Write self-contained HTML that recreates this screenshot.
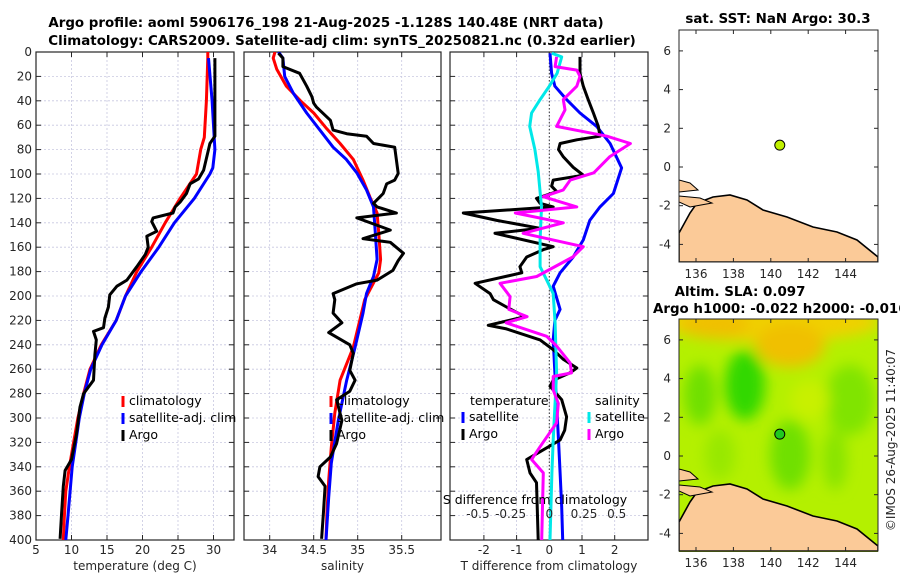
<!DOCTYPE html>
<html><head><meta charset="utf-8">
<style>
html,body{margin:0;padding:0;background:#fff;}
svg{display:block;font-family:"DejaVu Sans","Liberation Sans",sans-serif;}
.tk{font-size:12px;fill:#262626;}
.ttl{font-size:13.4px;font-weight:bold;fill:#000;}
.lg{font-size:12.5px;fill:#000;}
</style></head>
<body>
<svg id="chart" width="900" height="580" viewBox="0 0 900 580">
<defs>
<filter id="blr" x="-50%" y="-50%" width="200%" height="200%"><feGaussianBlur stdDeviation="7"/></filter>
<clipPath id="clipA"><rect x="679" y="319" width="199" height="233"/></clipPath>
<clipPath id="clipS"><rect x="679" y="30" width="199" height="232"/></clipPath>
<clipPath id="clipP1"><rect x="36" y="52" width="198" height="488"/></clipPath>
<clipPath id="clipP2"><rect x="244" y="52" width="197" height="488"/></clipPath>
<clipPath id="clipP3"><rect x="450" y="52" width="198" height="488"/></clipPath>
</defs>
<text class="ttl" x="326" y="27" text-anchor="middle">Argo profile: aoml 5906176_198 21-Aug-2025 -1.128S 140.48E (NRT data)</text>
<text class="ttl" x="342" y="45" text-anchor="middle">Climatology: CARS2009. Satellite-adj clim: synTS_20250821.nc (0.32d earlier)</text>
<g id="g1"></g>
<g id="g2"></g>
<g id="g3"></g>
<g id="gm"></g>
<text class="ttl" x="778" y="23" text-anchor="middle">sat. SST: NaN Argo: 30.3</text>
<text class="ttl" x="740" y="296" text-anchor="middle">Altim. SLA: 0.097</text>
<text class="ttl" x="653" y="313">Argo h1000: -0.022 h2000: -0.016</text>
<text class="tk" x="0" y="0" transform="translate(895,440) rotate(-90)" text-anchor="middle" font-size="12.5">©IMOS 26-Aug-2025 11:40:07</text>
</svg>
<script>
// ---- data ----
const climTDepth = [0,5,40,70,80,100,120,140,160,180,200,220,240,260,280,300,320,340,360,380,400];
const climT = [29.2,29.2,29.0,28.7,28.2,27.6,25.3,23.2,21.3,19.2,17.6,16.3,14.2,12.6,11.7,10.9,10.3,9.7,9.2,9.0,8.85];
const satTDepth = [5,40,80,95,100,120,140,160,180,200,220,240,260,280,300,320,340,360,380,400];
const satT = [29.3,29.8,30.2,29.9,29.5,27.3,24.5,22.3,19.8,17.6,16.3,14.3,12.7,11.8,11.1,10.6,10.1,9.8,9.5,9.2];
const argoTDepth = [5,69,75,80,97,104,108,116,123,127,132,136,139,147,151,160,166,176,187,192,199,209,218,226,229,236,248,269,280,291,313,334,343,356,378,399];
const argoT = [30.2,30.2,29.5,29.3,28.6,27.9,26.7,26.2,25.3,24.6,24.3,21.5,21.3,22.0,20.6,20.8,20.4,19.2,17.8,16.4,15.4,15.2,14.7,14.5,13.1,13.5,13.3,13.1,11.7,11.2,10.7,10.0,9.1,8.85,8.6,8.4];

const climSDepth = [0,5,14,28,40,50,63,75,88,105,119,132,149,170,181,192,203,209,242,269,296,324,351,378,400];
const climS = [34.06,34.04,34.08,34.19,34.35,34.50,34.65,34.80,34.95,35.06,35.14,35.22,35.24,35.26,35.24,35.16,35.08,35.06,34.95,34.80,34.74,34.70,34.67,34.65,34.64];
const satSDepth = [0,5,20,34,50,64,78,88,99,113,127,148,170,184,198,214,242,269,302,337,365,400];
const satS = [34.10,34.15,34.17,34.27,34.42,34.57,34.72,34.87,34.99,35.10,35.18,35.20,35.22,35.18,35.10,35.06,34.97,34.875,34.78,34.70,34.67,34.64];
const argoSDepth = [1,5,12,17.5,28,36.6,42,45,56,64,67,69,75,78,99.5,105,108,116,124,127,132,136,146,153,156,165,171,179,187,190,198,203,214,222,230,240,247,261,269,278,285,302,321,332,340,348,356,378,399];
const argoS = [34.10,34.15,34.15,34.34,34.42,34.48,34.50,34.53,34.69,34.72,34.875,35.10,35.18,35.42,35.46,35.42,35.33,35.29,35.18,35.22,35.44,34.99,35.37,35.06,35.37,35.52,35.46,35.40,35.22,34.99,34.72,34.74,34.72,34.82,34.67,34.91,34.95,34.91,34.97,34.91,34.76,34.82,34.76,34.69,34.57,34.55,34.63,34.61,34.59];

const satDTDepth = [1,17.5,28,39,50,61,75,95,116,127,138,154,168,181,192,211,220,236,263,291,318,345,373,400];
const satDT = [0.02,0.07,0.17,0.53,0.94,1.45,1.86,2.21,1.96,1.55,1.24,1.04,0.73,0.33,0.12,0.33,0.17,0.12,0.17,0.23,0.28,0.33,0.38,0.41];
const argoDTDepth = [4,17.5,28,39,50,61,69,72,75,80,86,94.5,101,105,110,114.5,120,124,127,132,138,144.5,148.6,159.6,162,168,176,181,189.6,198,203,209,217,224,227,236,244,252,259,263,269,274,285,299,310,318,327.6,334,345,353,400];
const argoDT = [0.94,0.94,1.04,1.19,1.35,1.5,1.55,0.84,0.33,0.28,0.43,0.73,1.04,0.12,0.07,0.23,-0.39,-0.28,0.12,-2.63,-1.61,-0.28,-1.66,0.12,-0.18,-0.69,-0.9,-0.84,-2.27,-1.81,-1.71,-1.31,-0.75,-1.87,-1.31,-0.28,0.12,0.43,0.84,0.63,0.12,0.02,0.38,0.53,0.47,0.33,-0.28,-0.69,-0.59,-0.39,-0.34];
const satDSDepth = [1,4,17.5,28,39,50,61,80,98,127,154,176,187,198,222,263,318,345,400];
const satDS = [0.02,0.095,0.06,0.0,-0.07,-0.135,-0.15,-0.11,-0.085,-0.06,-0.07,-0.07,-0.02,0.03,0.044,0.056,0.03,0.02,0.005];
const argoDSDepth = [4,12,14.8,20,28,39,47.5,61,69,75,86,99,105,113,118.6,127,132,140,148.6,159.6,168,184,189.6,200.5,211,217,222,233,241,255,263,266,277,288,304,323.5,334,345,400];
const argoDS = [0.056,0.044,0.21,0.235,0.21,0.107,0.12,0.056,0.44,0.62,0.46,0.34,0.16,0.107,-0.046,0.21,-0.26,0.107,-0.2,0.26,0.18,-0.096,-0.377,-0.30,-0.31,-0.17,-0.33,-0.02,0.056,0.16,0.17,0.03,0.03,0.069,0.056,-0.07,-0.135,-0.046,-0.058];

const depthTicks = [0,20,40,60,80,100,120,140,160,180,200,220,240,260,280,300,320,340,360,380,400];
const tempTicks = [5,10,15,20,25,30];
const salTicks = [34,34.5,35,35.5];
const salTickLabels = ['34','34.5','35','35.5'];
const dTTicks = [-2,-1,0,1,2];
const dSTicks = [-0.5,-0.25,0,0.25,0.5];
const lonTicks = [136,138,140,142,144];
const latTicks = [-4,-2,0,2,4,6];
const floatLon = [140.48];
const floatLat = [1.128];

// ---- axes ----
const NS='http://www.w3.org/2000/svg';
const yD = d => 52 + d*1.22;
const xT = t => 36 + (t-5)*7.1;
const xS = s => 269.7 + (s-34)*88;
const xDT = t => 549.3 + t*32.7;
const xDS = s => 549.3 + s*4*32.7;
const xLon = l => 696 + (l-136)*18.7;
const yLatS = l => 167 - l*19.35;
const yLatA = l => 456 - l*19.35;

function el(tag, attrs, parent){const e=document.createElementNS(NS,tag);for(const k in attrs)e.setAttribute(k,attrs[k]);parent.appendChild(e);return e;}
function txt(parent,x,y,s,cls,anchor){const t=el('text',{x:x,y:y,'class':cls,'text-anchor':anchor||'middle'},parent);t.textContent=s;return t;}

function panel(g,x0,x1,xs,xticks,xlabels,xtitle,clipId,leftLabels){
  depthTicks.forEach(d=>{const l=el('line',{x1:x0,x2:x1,y1:yD(d),y2:yD(d),stroke:'#c8c8e0','stroke-width':0.8,'stroke-dasharray':'2,2'},g);
    
    });
  xticks.forEach(v=>{const l=el('line',{x1:xs(v),x2:xs(v),y1:52,y2:540,stroke:'#c8c8e0','stroke-width':0.8,'stroke-dasharray':'2,2'},g);
    
    });
  depthTicks.forEach(d=>{el('line',{x1:x0,x2:x0+5,y1:yD(d),y2:yD(d),stroke:'#262626'},g);el('line',{x1:x1-5,x2:x1,y1:yD(d),y2:yD(d),stroke:'#262626'},g);
    if(leftLabels){const t=txt(g,x0-4,yD(d)+4,String(d),'tk','end');
      
      }});
  xticks.forEach((v,i)=>{el('line',{x1:xs(v),x2:xs(v),y1:540,y2:535,stroke:'#262626'},g);el('line',{x1:xs(v),x2:xs(v),y1:52,y2:57,stroke:'#262626'},g);
    const t=txt(g,xs(v),554,xlabels[i],'tk');
    
    });
  const b=el('rect',{x:x0,y:52,width:x1-x0,height:488,fill:'none',stroke:'#262626','stroke-width':1.2},g);
  
  
  const tt=txt(g,(x0+x1)/2,570,xtitle,'tk');
  tt.setAttribute('font-size','13');
  
  
}
function series(g,xs,depths,vals,color,name,clipId){
  const pts=vals.map((v,i)=>xs(v).toFixed(1)+','+yD(depths[i]).toFixed(1)).join(' ');
  const p=el('polyline',{points:pts,fill:'none',stroke:color,'stroke-width':3,'stroke-linejoin':'round','clip-path':'url(#'+clipId+')'},g);
  
  
}
function legendItem(g,x,y,color,label,name){
  el('rect',{x:x-1.5,y:y-9,width:3,height:11,fill:color},g);
  const t=txt(g,x+6,y,label,'lg','start');
  
  
}

const g1=document.getElementById('g1');
panel(g1,36,234,xT,tempTicks,tempTicks.map(String),'temperature (deg C)','clipP1',true);
series(g1,xT,climTDepth,climT,'#ff0000','climatology-temperature-line','clipP1');
series(g1,xT,satTDepth,satT,'#0000ff','satellite-temperature-line','clipP1');
series(g1,xT,argoTDepth,argoT,'#000000','argo-temperature-line','clipP1');
legendItem(g1,123,405,'#ff0000','climatology','legend-climatology');
legendItem(g1,123,422,'#0000ff','satellite-adj. clim','legend-satellite');
legendItem(g1,123,439,'#000000','Argo','legend-argo');

const g2=document.getElementById('g2');
panel(g2,244,441,xS,salTicks,salTickLabels,'salinity','clipP2',false);
series(g2,xS,climSDepth,climS,'#ff0000','climatology-salinity-line','clipP2');
series(g2,xS,satSDepth,satS,'#0000ff','satellite-salinity-line','clipP2');
series(g2,xS,argoSDepth,argoS,'#000000','argo-salinity-line','clipP2');
legendItem(g2,331,405,'#ff0000','climatology','legend-climatology-2');
legendItem(g2,331,422,'#0000ff','satellite-adj. clim','legend-satellite-2');
legendItem(g2,331,439,'#000000','Argo','legend-argo-2');

const g3=document.getElementById('g3');
panel(g3,450,648,xDT,dTTicks,dTTicks.map(String),'T difference from climatology','clipP3',false);
const zl=el('line',{x1:xDT(0),x2:xDT(0),y1:52,y2:540,stroke:'#333','stroke-width':1,'stroke-dasharray':'1.5,2'},g3);


series(g3,xDT,satDTDepth,satDT,'#0000ff','satellite-T-diff-line','clipP3');
series(g3,xDT,argoDTDepth,argoDT,'#000000','argo-T-diff-line','clipP3');
series(g3,xDS,satDSDepth,satDS,'#00e8e8','satellite-S-diff-line','clipP3');
series(g3,xDS,argoDSDepth,argoDS,'#ff00ff','argo-S-diff-line','clipP3');
const lt=txt(g3,470,405,'temperature','lg','start');


const ls=txt(g3,595,405,'salinity','lg','start');


legendItem(g3,463,421,'#0000ff','satellite','legend-T-satellite');
legendItem(g3,463,438,'#000000','Argo','legend-T-argo');
legendItem(g3,589,421,'#00e8e8','satellite','legend-S-satellite');
legendItem(g3,589,438,'#ff00ff','Argo','legend-S-argo');
const st=txt(g3,535,504,'S difference from climatology','lg','middle');


dSTicks.forEach((v,i)=>{const t=txt(g3,xDS(v)+(v<0?-6:(v>0?2:0)),518,['-0.5','-0.25','0','0.25','0.5'][i],'tk');
  
  });

// ---- maps ----
const gm=document.getElementById('gm');
const coast=[[679,233],[690,213],[697,203],[713,197],[730,195],[747,200],[763,210],[787,217],[813,227],[837,232],[857,240],[878,257]];
function map(top,yLat,clipId,isSla,name){
  const g=el('g',{'clip-path':'url(#'+clipId+')'},gm);
  
  
  if(isSla){
    el('rect',{x:679,y:319,width:199,height:233,fill:'#b4f000'},g);
    const bl=el('g',{filter:'url(#blr)'},g);
    el('ellipse',{cx:770,cy:322,rx:110,ry:20,fill:'#f0d000'},bl);
    el('ellipse',{cx:790,cy:345,rx:35,ry:22,fill:'#f0c000'},bl);
    el('ellipse',{cx:715,cy:325,rx:35,ry:14,fill:'#f0c000'},bl);
    el('ellipse',{cx:745,cy:385,rx:20,ry:35,fill:'#30d800'},bl);
    el('ellipse',{cx:700,cy:395,rx:16,ry:30,fill:'#70e000'},bl);
    el('ellipse',{cx:790,cy:455,rx:20,ry:35,fill:'#70e000'},bl);
    el('ellipse',{cx:850,cy:400,rx:25,ry:35,fill:'#80e400'},bl);
    el('ellipse',{cx:720,cy:455,rx:15,ry:25,fill:'#98e800'},bl);
    el('ellipse',{cx:835,cy:460,rx:12,ry:30,fill:'#88e400'},bl);
    el('ellipse',{cx:810,cy:400,rx:20,ry:20,fill:'#c8f000'},bl);
  }
  const off=top-30;
  const pts=coast.map(p=>p[0]+','+(p[1]+off)).join(' ')+' 878,'+(262+off)+' 679,'+(262+off);
  const land=el('polygon',{points:pts,fill:'#fbca98',stroke:'#000','stroke-width':1.6},g);
  
  
  el('polygon',{points:'679,'+(180+off)+' 690,'+(183+off)+' 698,'+(190+off)+' 679,'+(192+off),fill:'#fbca98',stroke:'#000','stroke-width':1},g);
  el('polygon',{points:'679,'+(196+off)+' 700,'+(198+off)+' 712,'+(203+off)+' 690,'+(207+off)+' 679,'+(202+off),fill:'#fbca98',stroke:'#000','stroke-width':1},g);
  const dot=el('circle',{cx:xLon(floatLon[0]),cy:yLat(floatLat[0]),r:5,fill:isSla?'#20c820':'#c0f000',stroke:'#000','stroke-width':1},gm);
  
  
  const box=el('rect',{x:679,y:top,width:199,height:232,fill:'none',stroke:'#262626','stroke-width':1},gm);
  
  
  lonTicks.forEach(l=>{el('line',{x1:xLon(l),x2:xLon(l),y1:top+232,y2:top+228,stroke:'#262626'},gm);el('line',{x1:xLon(l),x2:xLon(l),y1:top,y2:top+4,stroke:'#262626'},gm);
    const t=txt(gm,xLon(l),top+248,String(l),'tk');
    
    });
  latTicks.forEach(l=>{el('line',{x1:679,x2:683,y1:yLat(l),y2:yLat(l),stroke:'#262626'},gm);el('line',{x1:874,x2:878,y1:yLat(l),y2:yLat(l),stroke:'#262626'},gm);
    const t=txt(gm,671,yLat(l)+4,String(l),'tk','end');
    
    });
}
map(30,yLatS,'clipS',false,'sst-map');
map(319,yLatA,'clipA',true,'sla-map');
</script>
</body></html>
